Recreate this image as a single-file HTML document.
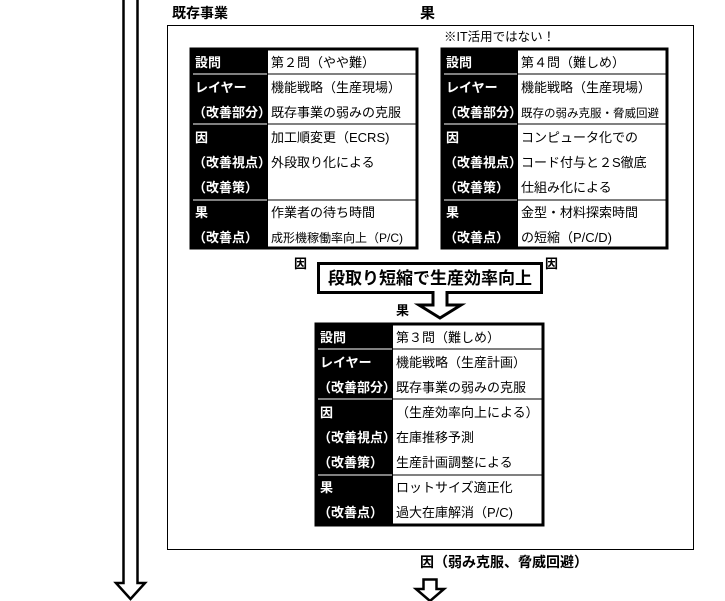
<!DOCTYPE html>
<html><head><meta charset="utf-8"><style>
html,body{margin:0;padding:0;background:#fff;}
svg{display:block;}
text{font-family:"Liberation Sans","Noto Sans CJK JP",sans-serif;font-size:13px;fill:#000;}
.w{fill:#fff;font-weight:bold;}
.b{font-weight:bold;}
</style></head><body>
<svg width="725" height="601" viewBox="0 0 725 601" xmlns="http://www.w3.org/2000/svg">
<path d="M123.5 0 V583 L116 583 L130.5 599 L145 583 L137.5 583 V0" fill="none" stroke="#000" stroke-width="2.5"/>
<text x="172" y="18" class="b" style="font-size:14px">既存事業</text>
<text x="420" y="18" class="b" style="font-size:15px">果</text>
<rect x="167.5" y="25.5" width="526" height="524" fill="none" stroke="#000" stroke-width="1"/>
<text x="444" y="41" style="font-size:12.5px">※IT活用ではない！</text>

<g transform="translate(191,49)">
<rect x="0" y="0" width="226" height="199" fill="#fff" stroke="#000" stroke-width="3"/>
<rect x="0" y="0" width="77" height="199" fill="#000"/>
<g stroke="#fff" stroke-width="1"><line x1="2" y1="25" x2="76" y2="25"/><line x1="2" y1="75" x2="76" y2="75"/><line x1="2" y1="151" x2="76" y2="151"/></g>
<g stroke="#000" stroke-width="1"><line x1="77" y1="25" x2="226" y2="25"/><line x1="77" y1="75" x2="226" y2="75"/><line x1="77" y1="151" x2="226" y2="151"/></g>
<text x="4" y="18" class="w">設問</text><text x="80" y="18">第２問（やや難）</text>
<text x="4" y="43" class="w">レイヤー</text><text x="80" y="43">機能戦略（生産現場）</text>
<text x="2" y="68" class="w">（改善部分）</text><text x="80" y="68">既存事業の弱みの克服</text>
<text x="4" y="93" class="w">因</text><text x="80" y="93">加工順変更（ECRS)</text>
<text x="2" y="118" class="w">（改善視点）</text><text x="80" y="118">外段取り化による</text>
<text x="2" y="143" class="w">（改善策）</text>
<text x="4" y="168" class="w">果</text><text x="80" y="168">作業者の待ち時間</text>
<text x="2" y="193" class="w">（改善点）</text><text x="80" y="193" style="font-size:12px">成形機稼働率向上（P/C)</text>
</g>

<g transform="translate(442,49)">
<rect x="0" y="0" width="225" height="199" fill="#fff" stroke="#000" stroke-width="3"/>
<rect x="0" y="0" width="76" height="199" fill="#000"/>
<g stroke="#fff" stroke-width="1"><line x1="2" y1="25" x2="75" y2="25"/><line x1="2" y1="75" x2="75" y2="75"/><line x1="2" y1="151" x2="75" y2="151"/></g>
<g stroke="#000" stroke-width="1"><line x1="76" y1="25" x2="225" y2="25"/><line x1="76" y1="75" x2="225" y2="75"/><line x1="76" y1="151" x2="225" y2="151"/></g>
<text x="4" y="18" class="w">設問</text><text x="79" y="18">第４問（難しめ）</text>
<text x="4" y="43" class="w">レイヤー</text><text x="79" y="43">機能戦略（生産現場）</text>
<text x="2" y="68" class="w">（改善部分）</text><text x="79" y="68" style="font-size:11.5px">既存の弱み克服・脅威回避</text>
<text x="4" y="93" class="w">因</text><text x="79" y="93">コンピュータ化での</text>
<text x="2" y="118" class="w">（改善視点）</text><text x="79" y="118">コード付与と２S徹底</text>
<text x="2" y="143" class="w">（改善策）</text><text x="79" y="143">仕組み化による</text>
<text x="4" y="168" class="w">果</text><text x="79" y="168">金型・材料探索時間</text>
<text x="2" y="193" class="w">（改善点）</text><text x="79" y="193">の短縮（P/C/D)</text>
</g>

<text x="294" y="268" class="b">因</text>
<text x="545" y="268" class="b">因</text>
<path d="M318.5 263.5 H541.5 V292.5 H447 V305 H461 L440 318 L419 305 H433 V292.5 H318.5 Z" fill="#fff" stroke="#000" stroke-width="3" stroke-linejoin="miter"/>
<text x="430" y="284" class="b" text-anchor="middle" style="font-size:17px">段取り短縮で生産効率向上</text>
<text x="396" y="315" class="b">果</text>

<g transform="translate(316,324)">
<rect x="0" y="0" width="227" height="201" fill="#fff" stroke="#000" stroke-width="3"/>
<rect x="0" y="0" width="77" height="201" fill="#000"/>
<g stroke="#fff" stroke-width="1"><line x1="2" y1="25" x2="76" y2="25"/><line x1="2" y1="75" x2="76" y2="75"/><line x1="2" y1="151" x2="76" y2="151"/></g>
<g stroke="#000" stroke-width="1"><line x1="77" y1="25" x2="227" y2="25"/><line x1="77" y1="75" x2="227" y2="75"/><line x1="77" y1="151" x2="227" y2="151"/></g>
<text x="4" y="18" class="w">設問</text><text x="80" y="18">第３問（難しめ）</text>
<text x="4" y="43" class="w">レイヤー</text><text x="80" y="43">機能戦略（生産計画）</text>
<text x="2" y="68" class="w">（改善部分）</text><text x="80" y="68">既存事業の弱みの克服</text>
<text x="4" y="93" class="w">因</text><text x="80" y="93">（生産効率向上による）</text>
<text x="2" y="118" class="w">（改善視点）</text><text x="80" y="118">在庫推移予測</text>
<text x="2" y="143" class="w">（改善策）</text><text x="80" y="143">生産計画調整による</text>
<text x="4" y="168" class="w">果</text><text x="80" y="168">ロットサイズ適正化</text>
<text x="2" y="193" class="w">（改善点）</text><text x="80" y="193">過大在庫解消（P/C)</text>
</g>

<text x="420" y="567" class="b" style="font-size:14px">因（弱み克服、脅威回避）</text>
<path d="M423.5 579.5 H436.5 V589 H444 L430 601 L416 589 H423.5 Z" fill="#fff" stroke="#000" stroke-width="2.5"/>
</svg>
</body></html>
